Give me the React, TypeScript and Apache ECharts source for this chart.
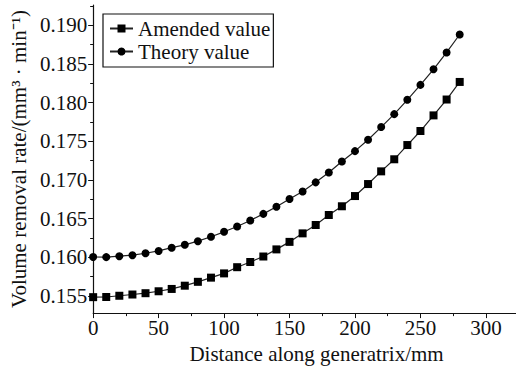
import React, { useEffect, useRef } from "react";
import * as echarts from "echarts";

const xValues = [0, 10, 20, 30, 40, 50, 60, 70, 80, 90, 100, 110, 120, 130, 140, 150, 160, 170, 180, 190, 200, 210, 220, 230, 240, 250, 260, 270, 280];
const amendedValues = [0.15486, 0.15488, 0.15504, 0.1552, 0.15537, 0.15562, 0.15592, 0.15634, 0.15684, 0.15738, 0.15793, 0.15873, 0.1594, 0.16011, 0.16103, 0.162, 0.1631, 0.16418, 0.16547, 0.1666, 0.16792, 0.16947, 0.17111, 0.17267, 0.17451, 0.17632, 0.17834, 0.18039, 0.18266];
const theoryValues = [0.16005, 0.16003, 0.16015, 0.16028, 0.16053, 0.16083, 0.16125, 0.16162, 0.16209, 0.16267, 0.1633, 0.16398, 0.16477, 0.16562, 0.16654, 0.16754, 0.16851, 0.16969, 0.17097, 0.17239, 0.17372, 0.17519, 0.17683, 0.1785, 0.18035, 0.18228, 0.18429, 0.18647, 0.18879];
const yTickLabels = [0.155, 0.16, 0.165, 0.17, 0.175, 0.18, 0.185, 0.19];
const yMinorTicks = [0.1575, 0.1625, 0.1675, 0.1725, 0.1775, 0.1825, 0.1875, 0.1925];
const xTickLabels = [0, 50, 100, 150, 200, 250, 300];
const xMinorTicks = [25, 75, 125, 175, 225, 275];

const FONT = "'Liberation Serif', 'Times New Roman', serif";

export default function App() {
  const ref = useRef<HTMLDivElement>(null);
  useEffect(() => {
    if (!ref.current) return;
    const chart = echarts.init(ref.current, null, { renderer: "svg" });
    const amended = xValues.map((x, i) => [x, amendedValues[i]]);
    const theory = xValues.map((x, i) => [x, theoryValues[i]]);
    const axisLine = { show: true, lineStyle: { color: "#111", width: 1.2 } };
    chart.setOption({
      animation: false,
      backgroundColor: "#fff",
      grid: { left: 91, top: 5, right: 0, bottom: 47 },
      legend: {
        left: 103,
        top: 14,
        orient: "vertical",
        borderColor: "#111",
        borderWidth: 1.2,
        padding: [4, 3, 5, 6],
        itemGap: 2,
        itemWidth: 23,
        itemHeight: 10,
        itemTextGap: 3,
        itemStyle: { color: "#000" },
        textStyle: { fontFamily: FONT, fontSize: 21, color: "#111" },
        data: ["Amended value", "Theory value"],
      },
      xAxis: [
        {
          type: "value",
          min: 0,
          max: 323,
          name: "Distance along generatrix/mm",
          nameLocation: "middle",
          nameGap: 17,
          nameTextStyle: { fontFamily: FONT, fontSize: 21, color: "#111", padding: [0, 0, 0, 24] },
          axisLine,
          axisTick: { show: true, inside: false, length: 5, customValues: xTickLabels, lineStyle: { color: "#111" } },
          axisLabel: { fontFamily: FONT, fontSize: 21, color: "#111", margin: 4, customValues: xTickLabels },
          splitLine: { show: false },
        },
        {
          type: "value",
          min: 0,
          max: 323,
          position: "bottom",
          axisLine: { show: false },
          axisTick: { show: true, inside: false, length: 3, customValues: xMinorTicks, lineStyle: { color: "#111" } },
          axisLabel: { show: false },
          splitLine: { show: false },
        },
      ],
      yAxis: [
        {
          type: "value",
          min: 0.1528,
          max: 0.1926,
          name: "Volume removal rate/(mm³ · min⁻¹)",
          nameLocation: "middle",
          nameGap: 57,
          nameTextStyle: { fontFamily: FONT, fontSize: 21, color: "#111" },
          axisLine,
          axisTick: { show: true, inside: false, length: 5, customValues: yTickLabels, lineStyle: { color: "#111" } },
          axisLabel: {
            fontFamily: FONT,
            fontSize: 21,
            color: "#111",
            margin: 6,
            customValues: yTickLabels,
            formatter: (v: number) => v.toFixed(3),
          },
          splitLine: { show: false },
        },
        {
          type: "value",
          min: 0.1528,
          max: 0.1926,
          position: "left",
          axisLine: { show: false },
          axisTick: { show: true, inside: false, length: 3, customValues: yMinorTicks, lineStyle: { color: "#111" } },
          axisLabel: { show: false },
          splitLine: { show: false },
        },
      ],
      series: [
        {
          name: "Amended value",
          type: "line",
          data: amended,
          symbol: "rect",
          symbolSize: 8,
          lineStyle: { color: "#222", width: 1.2 },
          itemStyle: { color: "#000" },
        },
        {
          name: "Theory value",
          type: "line",
          data: theory,
          symbol: "circle",
          symbolSize: 8,
          lineStyle: { color: "#222", width: 1.2 },
          itemStyle: { color: "#000" },
        },
      ],
    });
    return () => chart.dispose();
  }, []);
  return (
    <div
      ref={ref}
      style={{ position: "absolute", left: 0, top: 0, width: 516, height: 369 }}
    />
  );
}
